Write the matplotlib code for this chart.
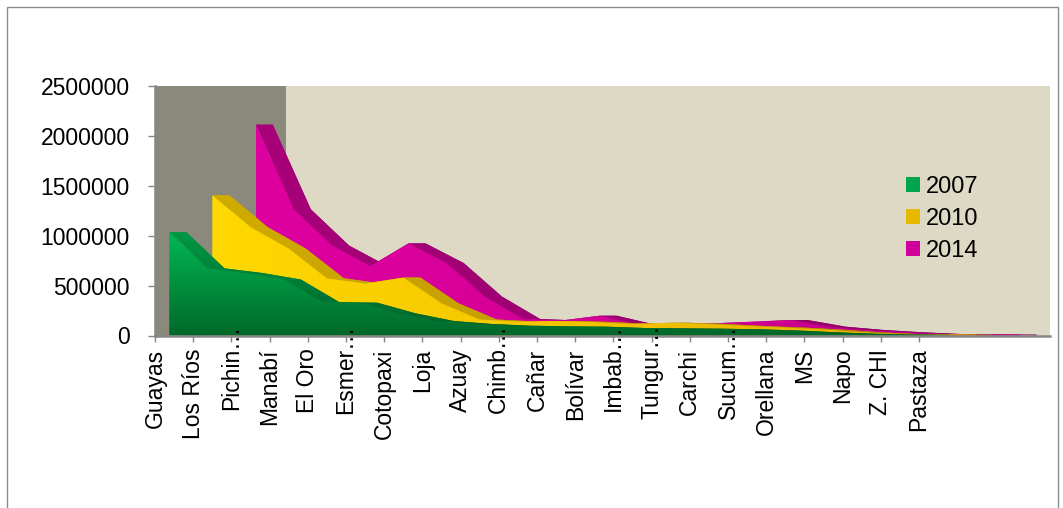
import numpy as np
import matplotlib
matplotlib.use("Agg")
import matplotlib.pyplot as plt
from matplotlib.patches import Polygon, Rectangle, Patch
from matplotlib.transforms import blended_transform_factory, offset_copy

# ---------------------------------------------------------------- data
provinces = ["Guayas", "Los Ríos", "Pichin…", "Manabí", "El Oro", "Esmer…",
             "Cotopaxi", "Loja", "Azuay", "Chimb…", "Cañar", "Bolívar",
             "Imbab…", "Tungur…", "Carchi", "Sucum…", "Orellana", "MS",
             "Napo", "Z. CHI", "Pastaza"]

years = ["2007", "2010", "2014"]

pop_2007 = [1035000, 672000, 625000, 560000, 335000, 328000, 222000, 145000,
            115000, 98000, 92000, 88000, 75000, 72000, 68000, 62000, 50000,
            32000, 18000, 10000, 8000]
pop_2010 = [1405000, 1085000, 870000, 572000, 520000, 580000, 322000, 160000,
            140000, 145000, 135000, 115000, 128000, 115000, 95000, 80000,
            60000, 32000, 15000, 12000, 8000]
pop_2014 = [2112000, 1262000, 900000, 695000, 922000, 725000, 390000, 165000,
            150000, 198000, 110000, 105000, 122000, 138000, 155000, 88000,
            55000, 32000, 15000, 12000, 10000]

y_ticks = [0, 500000, 1000000, 1500000, 2000000, 2500000]

# ---------------------------------------------------------------- layout
W, H = 1063, 508
DPI = 100
FONT = "Liberation Sans"
plt.rcParams["font.family"] = [FONT, "DejaVu Sans"]

fig = plt.figure(figsize=(W / DPI, H / DPI), dpi=DPI)
fig.patch.set_facecolor("white")

# plot-area box in pixels
PX_LEFT, PX_RIGHT, PX_TOP, PX_BOTTOM = 155, 1050, 85.7, 335.5
CAT_PX = 38.2                      # pixel width of one category step
ax = fig.add_axes([PX_LEFT / W, 1 - PX_BOTTOM / H,
                   (PX_RIGHT - PX_LEFT) / W, (PX_BOTTOM - PX_TOP) / H])

x_max = (PX_RIGHT - PX_LEFT) / CAT_PX
y_max = 2500000

# oblique depth: each series sits further back, drawn shifted to the right
SERIES_SHIFT = [0.374, 1.50, 2.636]
SLAB = 0.445
WALL = 3.43

GRAY_AXIS = "#868686"

# side wall and back wall
ax.add_patch(Rectangle((0, 0), WALL, y_max, facecolor="#8B897C",
                       edgecolor="none", zorder=0.5))
ax.add_patch(Rectangle((WALL, 0), x_max - WALL, y_max, facecolor="#DDD9C4",
                       edgecolor="none", zorder=0.5))


def gradient(c0, c1, vertical, n=256):
    """c0 -> c1; for vertical gradients c0 is the bottom colour."""
    t = np.linspace(0, 1, n)[:, None]
    cols = (np.array(c0, float) * (1 - t) + np.array(c1, float) * t) / 255.0
    if vertical:
        return cols[:, None, :]
    return cols[None, :, :]


def shaded_fill(poly, img, extent, z):
    clip = Polygon(poly, closed=True, transform=ax.transData)
    im = ax.imshow(img, extent=extent, origin="lower", aspect="auto",
                   interpolation="bilinear", zorder=z)
    im.set_clip_path(clip)


def draw_slab(values, shift, face_img, side_img, z):
    xs = np.arange(len(values)) + shift
    ys = np.asarray(values, float)
    extent = (xs[0], xs[-1] + SLAB, 0, ys.max())

    front = [(xs[0], 0)] + list(zip(xs, ys)) + [(xs[-1], 0)]
    back = [(x + SLAB, y) for x, y in front]

    # back face plus the top surface between front and back edges
    shaded_fill(back, side_img, extent, z)
    for i in range(len(xs) - 1):
        quad = [(xs[i], ys[i]), (xs[i + 1], ys[i + 1]),
                (xs[i + 1] + SLAB, ys[i + 1]), (xs[i] + SLAB, ys[i])]
        shaded_fill(quad, side_img, extent, z)

    # front face
    shaded_fill(front, face_img, extent, z + 0.2)


# back to front: 2014, 2010, 2007
draw_slab(pop_2014, SERIES_SHIFT[2],
          gradient((222, 0, 160), (196, 0, 136), vertical=False),
          gradient((168, 0, 122), (140, 0, 102), vertical=False), z=1.0)
draw_slab(pop_2010, SERIES_SHIFT[1],
          gradient((255, 217, 0), (228, 172, 0), vertical=False),
          gradient((208, 172, 0), (180, 140, 0), vertical=False), z=1.5)
draw_slab(pop_2007, SERIES_SHIFT[0],
          gradient((0, 104, 42), (0, 184, 84), vertical=True),
          gradient((0, 96, 40), (0, 152, 68), vertical=True), z=2.0)

ax.set_xlim(0, x_max)
ax.set_ylim(0, y_max)

# ---------------------------------------------------------------- axes
for side in ("top", "right"):
    ax.spines[side].set_visible(False)
for side in ("left", "bottom"):
    ax.spines[side].set_color(GRAY_AXIS)
    ax.spines[side].set_linewidth(1.8)
    ax.spines[side].set_zorder(6)

ax.set_yticks(y_ticks)
ax.set_yticklabels([str(v) for v in y_ticks])
ax.tick_params(axis="y", direction="out", length=5, width=1,
               color=GRAY_AXIS, pad=13, labelsize=16.5, labelcolor="black")

ax.set_xticks(range(len(provinces)))
ax.set_xticklabels([])
ax.tick_params(axis="x", direction="out", length=4, width=1, color=GRAY_AXIS)

# category labels, rotated; truncated names let the ellipsis run past the axis
base = blended_transform_factory(ax.transData, ax.transAxes)
for i, name in enumerate(provinces):
    dy = 8.0 if name.endswith("…") else -9.4
    tr = offset_copy(base, fig=fig, x=0, y=dy, units="points")
    ax.text(i, 0, name, rotation=90, ha="center", va="top", transform=tr,
            fontsize=16.5, color="black", clip_on=False, zorder=10)

# ---------------------------------------------------------------- legend
handles = [Patch(facecolor="#00A54C", edgecolor="none"),
           Patch(facecolor="#E8B800", edgecolor="none"),
           Patch(facecolor="#D0009A", edgecolor="none")]
fig.legend(handles, years, loc="upper left",
           bbox_to_anchor=(906 / W, 1 - 176 / H),
           frameon=False, fontsize=17, handlelength=0.6, handleheight=0.6,
           handletextpad=0.25, labelspacing=0.42, borderpad=0,
           borderaxespad=0)

# ---------------------------------------------------------------- frame
fig.add_artist(Rectangle((7 / W, -0.05), (1058 - 7) / W, 1.05 - 7 / H,
                         transform=fig.transFigure, fill=False,
                         edgecolor="#8C8C8C", linewidth=1.0))

fig.savefig("out.png", dpi=DPI)
